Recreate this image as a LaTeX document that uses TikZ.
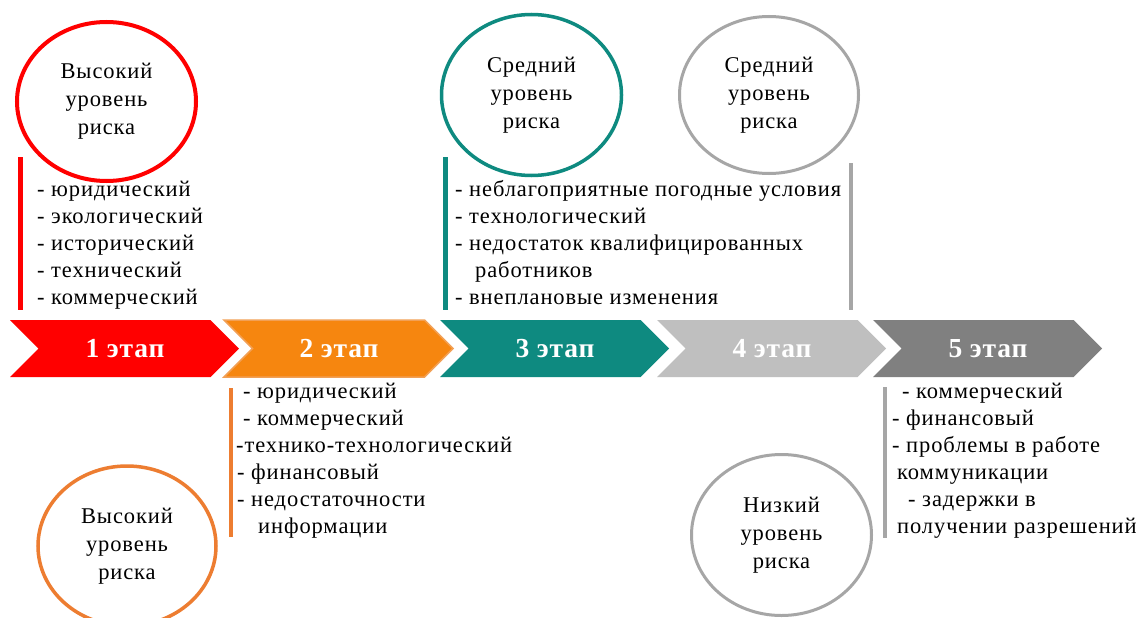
\documentclass[tikz,border=0pt]{standalone}
\usepackage{fontspec}
\setmainfont{Liberation Serif}[LetterSpace=4]
\usetikzlibrary{shapes.geometric}
\definecolor{cRed}{HTML}{FF0000}
\definecolor{cOrange}{HTML}{F6860F}
\definecolor{cOrangeEdge}{HTML}{F2A055}
\definecolor{cOrangeC}{HTML}{ED7D31}
\definecolor{cTeal}{HTML}{0E8A80}
\definecolor{cLGrey}{HTML}{BFBFBF}
\definecolor{cDGrey}{HTML}{808080}
\definecolor{cGreyC}{HTML}{A6A6A6}
\begin{document}
\begin{tikzpicture}[x=1pt,y=-1pt,
  riskc/.style={ellipse, line width=3.5pt, align=center, inner sep=0pt,
    font=\fontsize{22.5}{28}\selectfont, minimum width=180pt, minimum height=160pt},
  bar/.style={line width=5pt},
  lst/.style={anchor=base west, align=left, inner sep=0pt, font=\fontsize{22.5}{27}\selectfont},
  stage/.style={font=\bfseries\fontsize{27.5}{27.5}\selectfont\addfontfeature{LetterSpace=3}, text=white, inner sep=0pt}]
\useasboundingbox[fill=white] (0,0) rectangle (1140,618);

% chevrons
\foreach \i/\L/\c in {1/10/cRed, 2/224/cOrange, 3/440/cTeal, 4/657/cLGrey, 5/873/cDGrey}{
  \path[fill=\c] (\L,320) -- (\L+200.5,320) -- (\L+229,348.5) -- (\L+200.5,377) -- (\L,377) -- (\L+28.5,348.5) -- cycle;
}
\draw[cOrangeEdge, line width=1.5pt] (224,320) -- (424.5,320) -- (453,348.5) -- (424.5,377) -- (224,377) -- (252.5,348.5) -- cycle;
\foreach \i/\L in {1/10, 2/224, 3/440, 4/657, 5/873}{
  \node[stage] (s\i) at (\L+115,348.5) {\i\ этап};
}

% circles
\node[riskc, draw=cRed, line width=4pt, minimum width=179pt, minimum height=159pt] (c1) at (106.5,101.5) {Высокий\\уровень\\риска};
\node[riskc, draw=cTeal, minimum width=180pt, minimum height=161pt] (c3) at (531.5,95) {Средний\\уровень\\риска};
\node[riskc, draw=cGreyC, line width=3pt, minimum width=179pt, minimum height=157pt] (c4) at (769,95) {Средний\\уровень\\риска};
\node[riskc, draw=cOrangeC, minimum width=178pt, minimum height=160pt] (c2) at (127,546) {Высокий\\уровень\\риска};
\node[riskc, draw=cGreyC, line width=3pt, minimum width=180pt, minimum height=161pt] (c5) at (781.5,535) {Низкий\\уровень\\риска};

% bars
\coordinate (b1t) at (20,157); \coordinate (b1b) at (20,310);
\coordinate (b3t) at (445,157); \coordinate (b3b) at (445,310);
\coordinate (b4t) at (851,163); \coordinate (b4b) at (851,310);
\coordinate (b2t) at (231,388); \coordinate (b2b) at (231,537);
\coordinate (b5t) at (885,387); \coordinate (b5b) at (885,538);
\draw[bar, cRed] (b1t) -- (b1b);
\draw[bar, cTeal] (b3t) -- (b3b);
\draw[bar, cGreyC, line width=4pt] (b4t) -- (b4b);
\draw[bar, cOrangeC, line width=4pt] (b2t) -- (b2b);
\draw[bar, cGreyC, line width=4pt] (b5t) -- (b5b);

% lists (anchor = baseline of last line)
\node[lst] (l1) at (37,304) {- юридический\\- экологический\\- исторический\\- технический\\- коммерческий};
\node[lst] (l3) at (455,304) {- неблагоприятные погодные условия\\- технологический\\- недостаток квалифицированных\\\hspace{20pt}работников\\- внеплановые изменения};
\node[lst] (l2) at (236,533) {\hspace{7pt}- юридический\\\hspace{7pt}- коммерческий\\-технико-технологический\\\hspace{1pt}- финансовый\\\hspace{1pt}- недостаточности\\\hspace{22pt}информации};
\node[lst] (l5) at (892,533) {\hspace{10pt}- коммерческий\\- финансовый\\- проблемы в работе\\\hspace{5pt}коммуникации\\\hspace{16pt}- задержки в\\\hspace{5pt}получении разрешений};
\end{tikzpicture}
\end{document}
